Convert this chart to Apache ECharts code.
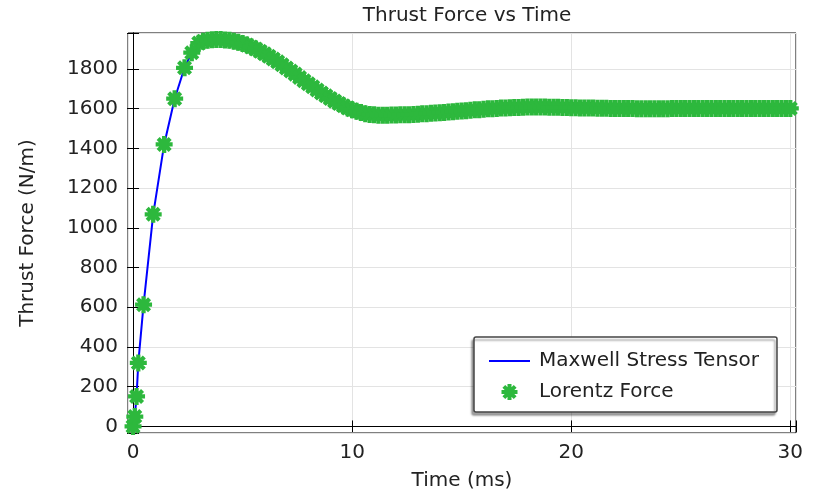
<!DOCTYPE html>
<html><head><meta charset="utf-8">
<script src="https://cdn.jsdelivr.net/npm/echarts@6/dist/echarts.min.js"></script>
<style>html,body{margin:0;padding:0;background:#fff}#c{width:813px;height:491px}</style>
</head><body><div id="c"></div>
<script>
// ---- data ----
const timeMs = [
  0, 0.08, 0.16, 0.24, 0.48, 0.92, 1.42, 1.9, 2.35, 2.68,
  3.0, 3.2, 3.4, 3.6, 3.8, 4.0, 4.2, 4.4, 4.6, 4.8,
  5.0, 5.2, 5.4, 5.6, 5.8, 6.0, 6.2, 6.4, 6.6, 6.8,
  7.0, 7.2, 7.4, 7.6, 7.8, 8.0, 8.2, 8.4, 8.6, 8.8,
  9.0, 9.2, 9.4, 9.6, 9.8, 10.0, 10.2, 10.4, 10.6, 10.8,
  11.0, 11.2, 11.4, 11.6, 11.8, 12.0, 12.2, 12.4, 12.6, 12.8,
  13.0, 13.2, 13.4, 13.6, 13.8, 14.0, 14.2, 14.4, 14.6, 14.8,
  15.0, 15.2, 15.4, 15.6, 15.8, 16.0, 16.2, 16.4, 16.6, 16.8,
  17.0, 17.2, 17.4, 17.6, 17.8, 18.0, 18.2, 18.4, 18.6, 18.8,
  19.0, 19.2, 19.4, 19.6, 19.8, 20.0, 20.2, 20.4, 20.6, 20.8,
  21.0, 21.2, 21.4, 21.6, 21.8, 22.0, 22.2, 22.4, 22.6, 22.8,
  23.0, 23.2, 23.4, 23.6, 23.8, 24.0, 24.2, 24.4, 24.6, 24.8,
  25.0, 25.2, 25.4, 25.6, 25.8, 26.0, 26.2, 26.4, 26.6, 26.8,
  27.0, 27.2, 27.4, 27.6, 27.8, 28.0, 28.2, 28.4, 28.6, 28.8,
  29.0, 29.2, 29.4, 29.6, 29.8, 30.0
];
const lorentzForce = [
  0, 50, 151, 320, 613, 1068, 1420, 1650, 1806, 1882,
  1930, 1939, 1944, 1947, 1948, 1948, 1946, 1944, 1940, 1934,
  1928, 1920, 1911, 1900, 1889, 1877, 1864, 1850, 1836, 1821,
  1805, 1790, 1774, 1757, 1741, 1725, 1710, 1694, 1679, 1665,
  1651, 1638, 1626, 1615, 1604, 1595, 1587, 1581, 1575, 1571,
  1569, 1567, 1567, 1567, 1568, 1568, 1569, 1569, 1570, 1571,
  1572, 1574, 1575, 1577, 1578, 1580, 1581, 1583, 1585, 1587,
  1588, 1590, 1592, 1594, 1595, 1597, 1599, 1600, 1601, 1603,
  1604, 1605, 1606, 1606, 1607, 1608, 1608, 1608, 1608, 1608,
  1607, 1607, 1607, 1606, 1606, 1605, 1605, 1604, 1604, 1603,
  1603, 1602, 1602, 1602, 1601, 1601, 1601, 1601, 1601, 1601,
  1600, 1600, 1600, 1600, 1600, 1600, 1600, 1600, 1601, 1601,
  1601, 1601, 1601, 1601, 1601, 1601, 1601, 1601, 1601, 1601,
  1601, 1601, 1601, 1601, 1601, 1601, 1601, 1601, 1601, 1601,
  1601, 1601, 1601, 1601, 1601, 1601
];
// Maxwell stress tensor result coincides with the Lorentz force curve
const maxwellForce = lorentzForce.slice();
const xTickValues = [0, 10, 20, 30];
const yTickValues = [0, 200, 400, 600, 800, 1000, 1200, 1400, 1600, 1800];
const seriesNames = ['Maxwell Stress Tensor', 'Lorentz Force'];

const FONT = 'DejaVu Sans';
const FS = 20;
const GREEN = '#2db83d';
const ASTERISK = 'path://M0 7.5L20 7.5L20 12.5L0 12.5Z M12.5 0L12.5 20L7.5 20L7.5 0Z M4.7 1.16L18.84 15.3L15.3 18.84L1.16 4.7Z M18.84 4.7L4.7 18.84L1.16 15.3L15.3 1.16Z';
const LINE_ICON = 'path://M0 0L41 0L41 2L0 2Z';

const isTick = (arr, v) => arr.some(t => Math.abs(t - v) < 1e-6);

const chart = echarts.init(document.getElementById('c'), null, {renderer: 'canvas'});
const axisCommon = {
  axisLine: {show: true, lineStyle: {color: '#000', width: 1}},
  axisTick: {show: true, inside: true, length: 6, lineStyle: {color: '#000', width: 1}},
};
chart.setOption({
  animation: false,
  backgroundColor: '#fff',
  textStyle: {fontFamily: FONT},
  title: {
    text: 'Thrust Force vs Time', left: 462, top: 1, textAlign: 'center',
    textStyle: {fontFamily: FONT, fontSize: FS, fontWeight: 'normal', color: '#222'}
  },
  grid: {left: 128, right: 17, top: 33, bottom: 58, show: true, borderColor: '#000', borderWidth: 1,
    outerBoundsMode: 'none', containLabel: false},
  xAxis: [{
    type: 'value', min: -0.23, max: 30.26, splitNumber: 3, position: 'bottom',
    name: 'Time (ms)', nameLocation: 'middle', nameGap: 38,
    nameTextStyle: {fontFamily: FONT, fontSize: FS, color: '#222'},
    ...axisCommon,
    axisLabel: {fontFamily: FONT, fontSize: FS, color: '#222', margin: 10,
      formatter: v => isTick(xTickValues, v) ? String(Math.round(v)) : ''},
    splitLine: {show: true, lineStyle: {color: '#e3e3e3', width: 1}}
  }, {
    type: 'value', min: -0.23, max: 30.26, splitNumber: 3, position: 'top',
    ...axisCommon, axisLabel: {show: false}, splitLine: {show: false}
  }],
  yAxis: [{
    type: 'value', min: -33, max: 1981, splitNumber: 10, position: 'left',
    name: 'Thrust Force (N/m)', nameLocation: 'middle', nameGap: 90,
    nameTextStyle: {fontFamily: FONT, fontSize: FS, color: '#222'},
    ...axisCommon,
    axisLabel: {fontFamily: FONT, fontSize: FS, color: '#222', margin: 10,
      formatter: v => isTick(yTickValues, v) ? String(Math.round(v)) : ''},
    splitLine: {show: true, lineStyle: {color: '#e3e3e3', width: 1}}
  }, {
    type: 'value', min: -33, max: 1981, splitNumber: 10, position: 'right',
    ...axisCommon, axisLabel: {show: false}, splitLine: {show: false}
  }],
  legend: {
    orient: 'vertical', left: 474, top: 337,
    padding: [14, 18, 10, 15], itemGap: 11, itemWidth: 41, itemHeight: 16,
    backgroundColor: '#fff', borderColor: '#444', borderWidth: 1.5, borderRadius: 2,
    shadowColor: 'rgba(0,0,0,0.35)', shadowBlur: 2, shadowOffsetX: -2, shadowOffsetY: 3,
    textStyle: {fontFamily: FONT, fontSize: FS, color: '#222', padding: [0, 0, 0, 4]},
    data: [
      {name: seriesNames[0], icon: LINE_ICON},
      {name: seriesNames[1], icon: ASTERISK}
    ]
  },
  series: [{
    name: seriesNames[0], type: 'line',
    data: timeMs.map((t, i) => [t, maxwellForce[i]]),
    symbol: 'none', lineStyle: {color: '#0000ff', width: 2}, itemStyle: {color: '#0000ff'},
    z: 2
  }, {
    name: seriesNames[1], type: 'scatter',
    data: timeMs.map((t, i) => [t, lorentzForce[i]]),
    symbol: ASTERISK, symbolSize: 17, itemStyle: {color: GREEN, opacity: 1},
    z: 3
  }]
});
</script>
</body></html>
